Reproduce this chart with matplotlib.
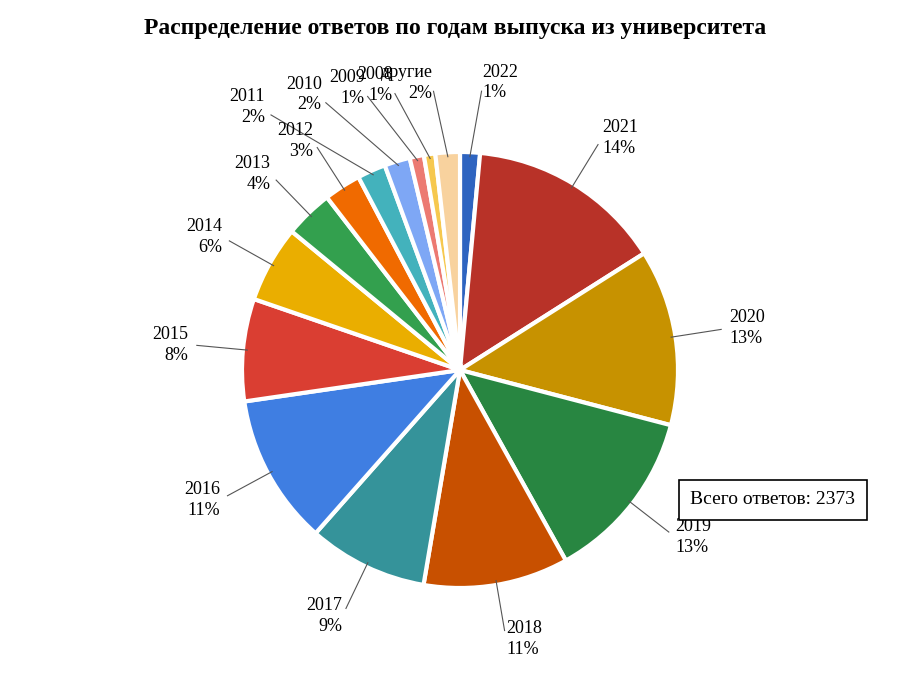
import numpy as np
import matplotlib.pyplot as plt

plt.rcParams['font.family'] = ['Liberation Serif', 'DejaVu Serif']

years = ['2022', '2021', '2020', '2019', '2018', '2017', '2016', '2015',
         '2014', '2013', '2012', '2011', '2010', '2009', '2008', 'другие']
counts = [35, 345, 310, 305, 255, 210, 265, 180, 135, 85, 65, 50, 45, 25, 20, 43]
pct_labels = ['1%', '14%', '13%', '13%', '11%', '9%', '11%', '8%',
              '6%', '4%', '3%', '2%', '2%', '1%', '1%', '2%']
colors = ['#2E64C0', '#B83228', '#C79200', '#288641', '#C85000', '#35939A',
          '#3F7EE2', '#DA3E32', '#EAAE00', '#33A04E', '#F06A00', '#43B2BC',
          '#7EA7F5', '#EC7A72', '#F6C84E', '#F8D29E']
total = 2373

W, H = 910, 676
fig = plt.figure(figsize=(W / 100, H / 100), dpi=100)
cx, cy, r = 460, 370, 218
ax = fig.add_axes([(cx - r) / W, (H - cy - r) / H, 2 * r / W, 2 * r / H])

wedges, _ = ax.pie(counts, colors=colors, startangle=90, counterclock=False,
                   radius=1.0, wedgeprops=dict(edgecolor='white', linewidth=3))
ax.set_xlim(-1, 1)
ax.set_ylim(-1, 1)
ax.set_aspect('equal')
ax.axis('off')

for w, y, p in zip(wedges, years, pct_labels):
    ang = np.deg2rad((w.theta1 + w.theta2) / 2)
    x0, y0 = np.cos(ang), np.sin(ang)
    # small slices at top are spread sideways a bit
    d = 1.32 if abs(x0) < 0.5 and y0 > 0 else 1.25
    tx, ty = d * x0, d * y0
    if y0 > 0.9:
        tx = x0 * 2.2
    ha = 'left' if tx > 0.05 else ('right' if tx < -0.05 else 'center')
    ax.plot([0.98 * x0, tx * 0.97], [0.98 * y0, ty * 0.97], color='#555555',
            lw=0.8, clip_on=False)
    ax.text(tx, ty, f'{y}\n{p}', ha=ha, va='center', fontsize=13,
            linespacing=1.3, clip_on=False)

fig.text(0.5, 0.958, 'Распределение ответов по годам выпуска из университета',
         ha='center', va='center', fontsize=17, fontweight='bold')
fig.text(773 / W, 1 - 500 / H, f'Всего ответов: {total}', ha='center', va='center',
         fontsize=14, bbox=dict(boxstyle='square,pad=0.6', fc='white', ec='black', lw=1.2))

fig.savefig('out.png', dpi=100)
